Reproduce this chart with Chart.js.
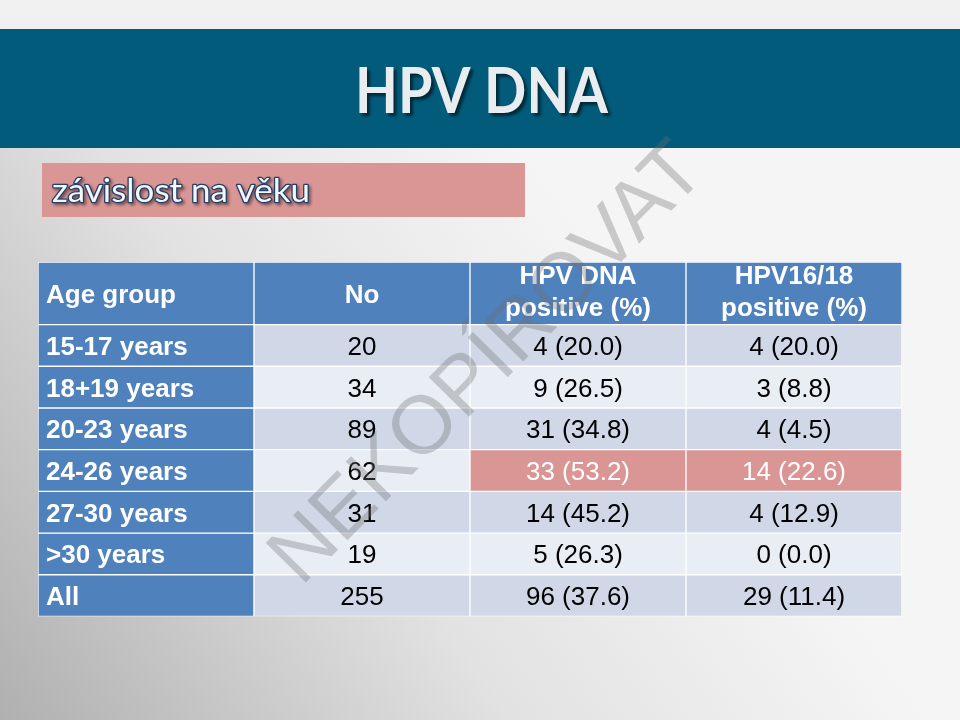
<!DOCTYPE html>
<html>
<head>
<meta charset="utf-8">
<script src="https://cdn.jsdelivr.net/npm/chart.js@4/dist/chart.umd.min.js"></script>
<style>
  html, body { margin: 0; padding: 0; background: #efefef; }
  canvas { display: block; }
</style>
</head>
<body>
<canvas id="c" width="960" height="720"></canvas>
<script>
// ---- data ----
const slideTitle = 'HPV DNA';
const slideSubtitle = 'závislost na věku';
const watermarkText = 'NEKOPÍROVAT';
const columnHeaders = [['Age group'], ['No'], ['HPV DNA', 'positive (%)'], ['HPV16/18', 'positive (%)']];
const ageGroups = ['15-17 years', '18+19 years', '20-23 years', '24-26 years', '27-30 years', '>30 years', 'All'];
const numberTested = [20, 34, 89, 62, 31, 19, 255];
const hpvDnaPositive = [4, 9, 31, 33, 14, 5, 96];
const hpvDnaPercent = [20.0, 26.5, 34.8, 53.2, 45.2, 26.3, 37.6];
const hpv1618Positive = [4, 3, 4, 14, 4, 0, 29];
const hpv1618Percent = [20.0, 8.8, 4.5, 22.6, 12.9, 0.0, 11.4];
const highlightedGroup = '24-26 years';

// ---- styles ----
const BLUE = '#4f81bd', DARK_ROW = '#d0d8e8', LIGHT_ROW = '#e9edf4', PINK = '#d99694';
const HEADER_UNITS = 1.5;
const FONT = '"Liberation Sans", Arial, sans-serif';

const cellText = (n, p) => n + ' (' + p.toFixed(1) + ')';

const datasets = [];
datasets.push({
  label: 'header',
  data: columnHeaders.map(() => [0, HEADER_UNITS]),
  backgroundColor: columnHeaders.map(() => BLUE),
  texts: columnHeaders,
  kind: 'header'
});
ageGroups.forEach((g, i) => {
  const rowCol = i % 2 === 0 ? DARK_ROW : LIGHT_ROW;
  const hl = g === highlightedGroup;
  datasets.push({
    label: g,
    data: columnHeaders.map(() => [HEADER_UNITS + i, HEADER_UNITS + i + 1]),
    backgroundColor: [BLUE, rowCol, hl ? PINK : rowCol, hl ? PINK : rowCol],
    texts: [[g], [String(numberTested[i])], [cellText(hpvDnaPositive[i], hpvDnaPercent[i])], [cellText(hpv1618Positive[i], hpv1618Percent[i])]],
    kind: 'row',
    highlight: hl
  });
});

const slidePlugin = {
  id: 'slide',
  beforeDraw(chart) {
    const ctx = chart.ctx;
    ctx.save();
    // background
    const g = ctx.createLinearGradient(0, 720, 620, 280);
    g.addColorStop(0, '#b0b0b0');
    g.addColorStop(0.55, '#e2e2e2');
    g.addColorStop(1, '#f5f5f5');
    ctx.fillStyle = g;
    ctx.fillRect(0, 0, 960, 720);
    const g2 = ctx.createLinearGradient(0, 0, 0, 40);
    g2.addColorStop(0, '#f2f2f2');
    g2.addColorStop(1, '#eeeeee');
    ctx.fillStyle = g2;
    ctx.fillRect(0, 0, 960, 30);
    // header band
    ctx.fillStyle = '#025b7b';
    ctx.fillRect(0, 29, 960, 119);
    // title
    ctx.font = 'bold 64px Lato, "Open Sans", sans-serif';
    ctx.textBaseline = 'alphabetic';
    ctx.textAlign = 'left';
    let w = ctx.measureText(slideTitle).width;
    ctx.save();
    ctx.translate(355, 113);
    ctx.scale(253 / w, 1);
    ctx.shadowColor = 'rgba(0,0,0,0.55)';
    ctx.shadowOffsetX = 3; ctx.shadowOffsetY = 3; ctx.shadowBlur = 3;
    ctx.fillStyle = '#eaedf0';
    ctx.fillText(slideTitle, 0, 0);
    ctx.restore();
    // subtitle box
    ctx.fillStyle = '#d99694';
    ctx.fillRect(42, 163, 483, 54);
    ctx.font = '33px Lato, "Open Sans", sans-serif';
    w = ctx.measureText(slideSubtitle).width;
    ctx.save();
    ctx.translate(52, 202);
    ctx.scale(258 / w, 1);
    ctx.shadowColor = 'rgba(0,0,0,0.45)';
    ctx.shadowOffsetX = 2; ctx.shadowOffsetY = 2; ctx.shadowBlur = 3;
    ctx.strokeStyle = '#22406a';
    ctx.lineWidth = 2.5;
    ctx.lineJoin = 'round';
    ctx.strokeText(slideSubtitle, 0, 0);
    ctx.shadowColor = 'transparent';
    ctx.fillStyle = '#f4f7fc';
    ctx.fillText(slideSubtitle, 0, 0);
    ctx.restore();
    ctx.restore();
  },
  afterDatasetsDraw(chart) {
    const ctx = chart.ctx;
    ctx.save();
    chart.data.datasets.forEach((ds, di) => {
      const meta = chart.getDatasetMeta(di);
      meta.data.forEach((bar, ci) => {
        const p = bar.getProps(['x', 'y', 'base', 'width'], true);
        const top = Math.min(p.y, p.base), bottom = Math.max(p.y, p.base);
        const cy = (top + bottom) / 2;
        const left = p.x - p.width / 2;
        const lines = ds.texts[ci];
        const bold = ds.kind === 'header' || ci === 0;
        ctx.font = (bold ? 'bold ' : '') + '26px ' + FONT;
        ctx.textBaseline = 'alphabetic';
        let color = '#000000';
        if (bold) color = '#ffffff';
        if (ds.highlight && ci >= 2) color = '#ffffff';
        ctx.fillStyle = color;
        let tx;
        if (ci === 0) { ctx.textAlign = 'left'; tx = left + 8; }
        else { ctx.textAlign = 'center'; tx = p.x; }
        if (lines.length === 1) {
          ctx.fillText(lines[0], tx, cy + 9.5);
        } else {
          ctx.fillText(lines[0], tx, cy - 9);
          ctx.fillText(lines[1], tx, cy + 23);
        }
      });
    });
    ctx.restore();
  },
  afterDraw(chart) {
    const ctx = chart.ctx;
    ctx.save();
    ctx.translate(484, 360);
    ctx.rotate(-45.5 * Math.PI / 180);
    ctx.font = '82px ' + FONT;
    ctx.textAlign = 'center';
    ctx.textBaseline = 'alphabetic';
    ctx.fillStyle = 'rgba(110,110,110,0.33)';
    ctx.fillText(watermarkText, 0, 29);
    ctx.restore();
  }
};

new Chart(document.getElementById('c'), {
  type: 'bar',
  data: { labels: columnHeaders.map(h => h.join(' ')), datasets },
  options: {
    responsive: false,
    animation: false,
    events: [],
    layout: { padding: { left: 38, right: 58, top: 262, bottom: 103.5 } },
    datasets: { bar: { grouped: false, categoryPercentage: 1, barPercentage: 1, borderWidth: 1, borderColor: '#ffffff', borderSkipped: false } },
    scales: {
      x: { type: 'category', display: false, offset: true },
      y: { type: 'linear', display: false, reverse: true, min: 0, max: HEADER_UNITS + ageGroups.length }
    },
    plugins: { legend: { display: false }, tooltip: { enabled: false } }
  },
  plugins: [slidePlugin]
});
</script>
</body>
</html>
